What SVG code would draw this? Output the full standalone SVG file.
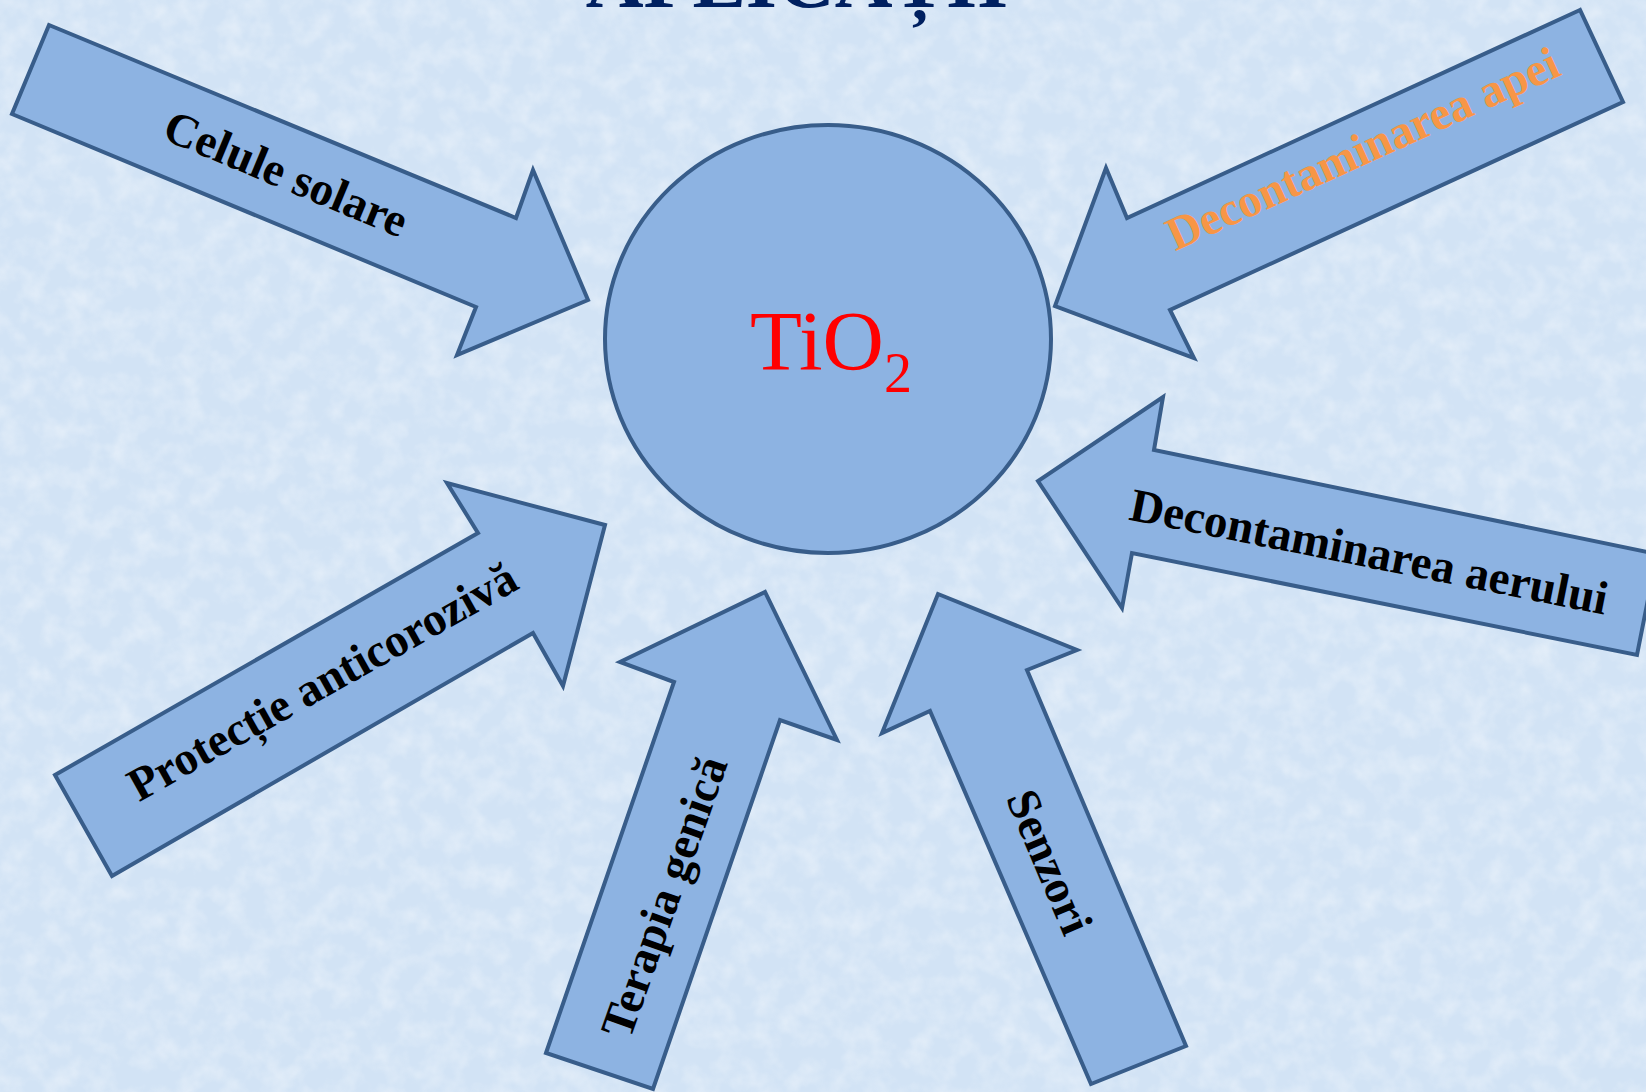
<svg xmlns="http://www.w3.org/2000/svg" width="1646" height="1092" viewBox="0 0 1646 1092">
  <defs>
    <filter id="tex" x="0" y="0" width="100%" height="100%" filterUnits="userSpaceOnUse">
      <feTurbulence type="fractalNoise" baseFrequency="0.045" numOctaves="3" seed="7" result="n"/>
      <feColorMatrix in="n" type="matrix" values="0 0 0 0 1  0 0 0 0 1  0 0 0 0 1  1.3 0 0 0 -0.5"/>
    </filter>
    <style>
      .shape { fill: #8DB3E2; stroke: #385D8A; stroke-width: 4; stroke-linejoin: miter; }
      .lbl { font-family: "Liberation Serif", "Times New Roman", serif; font-weight: bold; font-size: 47px; fill: #000000; text-anchor: middle; }
      .orange { fill: #F79646; }
    </style>
  </defs>

  <rect x="0" y="0" width="1646" height="1092" fill="#D2E3F5"/>
  <rect x="0" y="0" width="1646" height="1092" filter="url(#tex)" opacity="0.55"/>

  <g id="title">
    <text x="797" y="7" font-family="'Liberation Serif', 'Times New Roman', serif" font-weight="bold" font-size="80" fill="#002060" text-anchor="middle">APLICAȚII</text>
  </g>

  <g id="node-tio2">
    <ellipse cx="828" cy="339" rx="223" ry="214" class="shape"/>
    <text x="750" y="370" font-family="'Liberation Serif', 'Times New Roman', serif" font-size="85" fill="#FF0000">TiO<tspan dy="22" font-size="56">2</tspan></text>
  </g>

  <g id="connectors">
    <g id="arrow-celule-solare">
      <polygon class="shape" points="49,25 516,218 533,170 588,300 457,355 476,307 12,114"/>
      <text class="lbl" transform="translate(280,188) rotate(22.6)">Celule solare</text>
    </g>
    <g id="arrow-decontaminarea-apei">
      <polygon class="shape" points="1580,10 1127,218 1106,168 1055,306 1194,358 1170,310 1623,102"/>
      <text class="lbl orange" transform="translate(1369,163) rotate(-24.5)" font-size="48">Decontaminarea apei</text>
    </g>
    <g id="arrow-decontaminarea-aerului">
      <polygon class="shape" points="1657,554 1154,450 1163,397 1038,481 1122,608 1132,553 1637,655"/>
      <text class="lbl" transform="translate(1366,567) rotate(11.3)">Decontaminarea aerului</text>
    </g>
    <g id="arrow-protectie-anticoroziva">
      <polygon class="shape" points="55,775 478,533 447,483 605,525 563,686 533,633 112,876"/>
      <text class="lbl" transform="translate(330,695) rotate(-29.3)">Protecție anticorozivă</text>
    </g>
    <g id="arrow-terapia-genica">
      <polygon class="shape" points="546,1053 674,682 620,662 765,592 837,740 780,720 653,1089"/>
      <text class="lbl" transform="translate(679,902) rotate(-70.5)">Terapia genică</text>
    </g>
    <g id="arrow-senzori">
      <polygon class="shape" points="1091,1084 930,711 882,733 938,594 1077,650 1027,670 1186,1046"/>
      <text class="lbl" transform="translate(1035,868) rotate(67)">Senzori</text>
    </g>
  </g>
</svg>
